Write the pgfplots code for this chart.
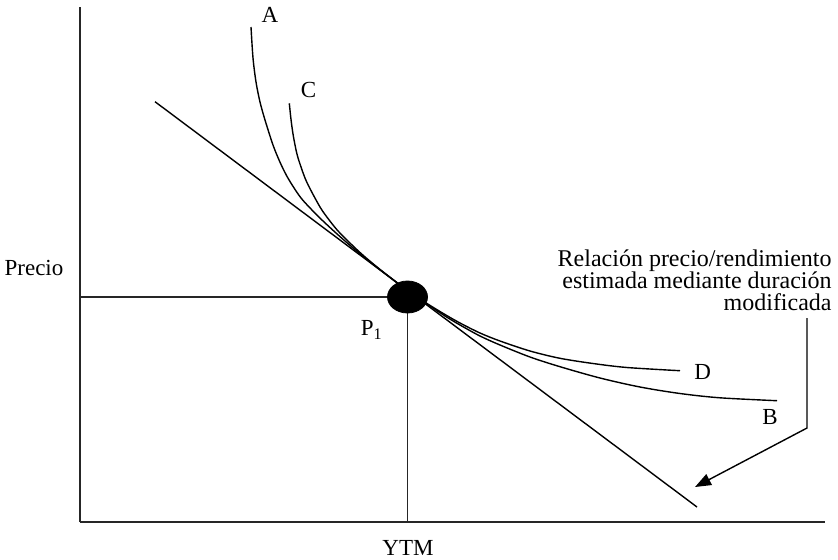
\documentclass[border=0pt]{standalone}
\usepackage{fontspec}
\setmainfont{Liberation Serif}
\usepackage{pgfplots}
\pgfplotsset{compat=1.18}
\usetikzlibrary{arrows.meta}

\begin{document}
\begin{tikzpicture}[every node/.style={font=\fontsize{11.5}{11}\selectfont}]
\begin{axis}[
  x=0.5pt, y=0.5pt,
  xmin=0, xmax=745, ymin=0, ymax=515,
  axis x line=bottom, axis y line=left,
  axis line style={-, line width=0.9pt, black!85},
  ticks=none,
  clip=false,
]
% curva A-B
\addplot[smooth, line width=0.7pt] coordinates {
  (171,495) (173,464) (176,440) (180,420) (185,402) (193,377) (200,359.8)
  (207,345.6) (215,332.6) (223,321.6) (240,303.9) (260,285.4) (280,268.2)
  (300,252.3) (327,231.8) (347,218) (365,206) (380,197) (400,186) (420,177)
  (450,165) (480,155.3) (520,144) (560,135) (600,128.5) (640,124.2) (697,121.3)
};
% curva C-D
\addplot[smooth, line width=0.7pt] coordinates {
  (209.3,418.7) (210.5,407) (211.7,397) (213.5,385) (216.7,369) (220,358)
  (226.7,340) (240,315) (250,300.9) (260,288.9) (280,269.5) (300,252.6)
  (327,231.8) (347,218.5) (365,207.5) (380,199) (400,189) (420,181)
  (450,171) (480,163.7) (513,158.5) (547,154.5) (600,151.3)
};
% recta de la duracion modificada
\addplot[line width=0.7pt] coordinates {(75,420.3) (617,15)};
% P1
\addplot[line width=0.7pt, black!85] coordinates {(0,225) (327.5,225)};
\addplot[line width=0.7pt, black!85] coordinates {(327.5,0) (327.5,225)};
\addplot[only marks, mark=*, mark size=8pt, mark options={xscale=1.25}] coordinates {(327.5,225)};
% flecha
\addplot[line width=0.7pt, -{Triangle[length=8pt,width=6pt]}] coordinates {(727,204) (727,94) (615,35)};

\node at (axis cs:190,507) {A};
\node at (axis cs:228.5,432) {C};
\node at (axis cs:622.7,150.3) {D};
\node at (axis cs:690,105.3) {B};
\node at (axis cs:291.7,192) {P\textsubscript{1}};
\node at (axis cs:-46,254) {Precio};
\node at (axis cs:328,-26) {YTM};
\node[anchor=east, align=right, inner sep=0pt, font=\fontsize{12}{11}\selectfont] at (axis cs:752,242)
  {Relación precio/rendimiento\\estimada mediante duración\\modificada};

\coordinate (bl) at (axis cs:-80,-37);
\coordinate (tr) at (axis cs:758,522);
\end{axis}
\pgfresetboundingbox
\path[use as bounding box] (bl) rectangle (tr);
\end{tikzpicture}
\end{document}
